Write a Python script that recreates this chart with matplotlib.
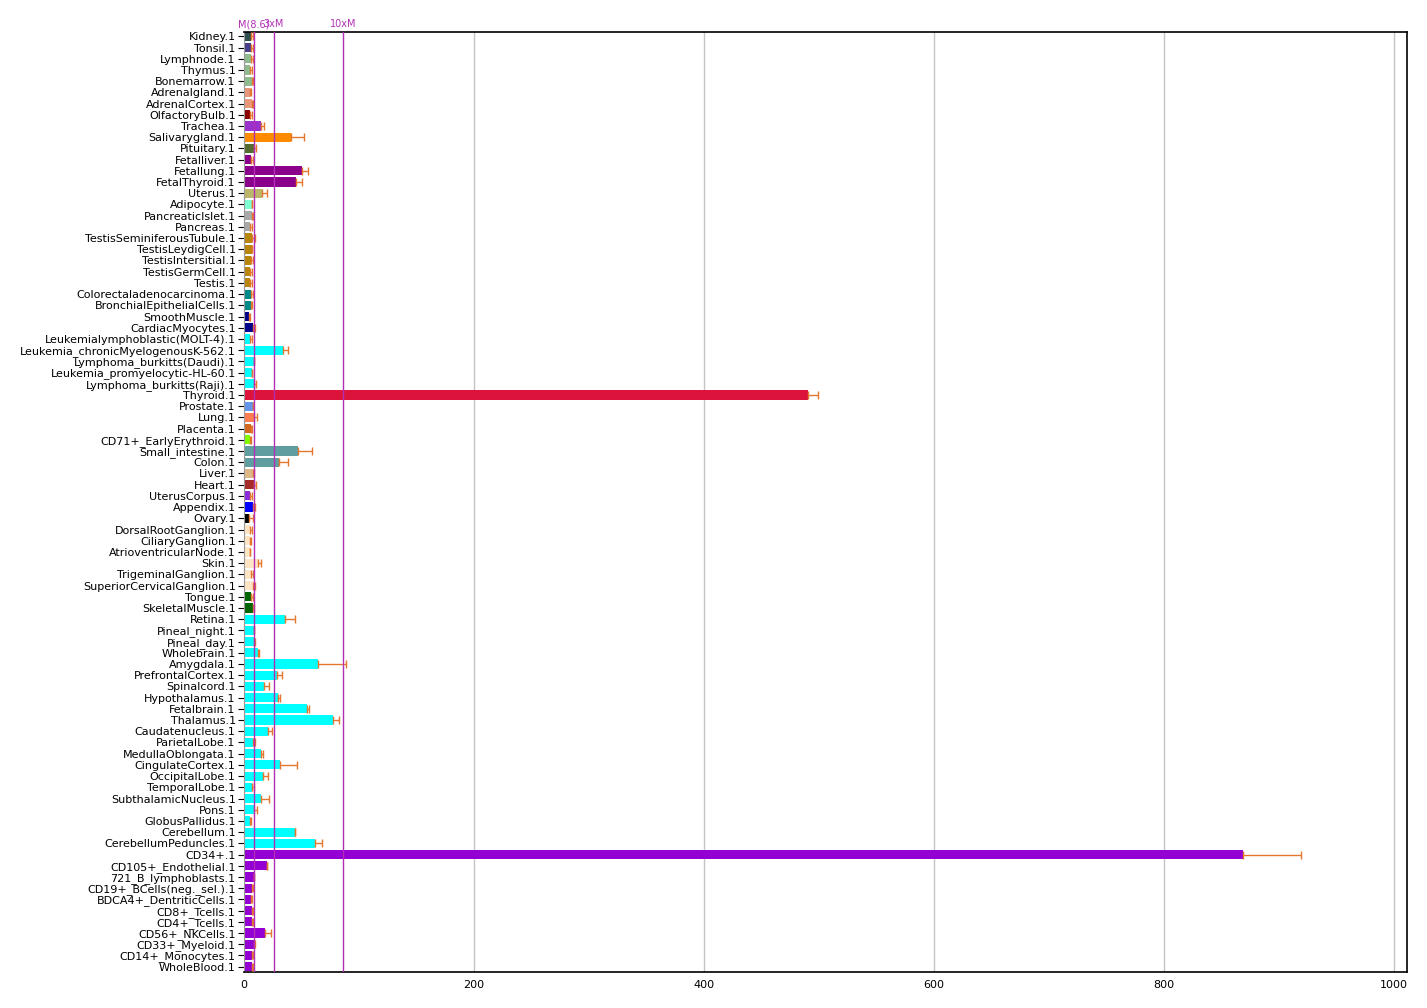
import numpy as np
import matplotlib
matplotlib.use('Agg')
import matplotlib.pyplot as plt

plt.rcParams['font.family'] = 'DejaVu Sans'

#%% data
samples = ['Kidney.1', 'Tonsil.1', 'Lymphnode.1', 'Thymus.1', 'Bonemarrow.1',
           'Adrenalgland.1', 'AdrenalCortex.1', 'OlfactoryBulb.1', 'Trachea.1',
           'Salivarygland.1', 'Pituitary.1', 'Fetalliver.1', 'Fetallung.1',
           'FetalThyroid.1', 'Uterus.1', 'Adipocyte.1', 'PancreaticIslet.1',
           'Pancreas.1', 'TestisSeminiferousTubule.1', 'TestisLeydigCell.1',
           'TestisIntersitial.1', 'TestisGermCell.1', 'Testis.1',
           'Colorectaladenocarcinoma.1', 'BronchialEpithelialCells.1',
           'SmoothMuscle.1', 'CardiacMyocytes.1', 'Leukemialymphoblastic(MOLT-4).1',
           'Leukemia_chronicMyelogenousK-562.1', 'Lymphoma_burkitts(Daudi).1',
           'Leukemia_promyelocytic-HL-60.1', 'Lymphoma_burkitts(Raji).1',
           'Thyroid.1', 'Prostate.1', 'Lung.1', 'Placenta.1',
           'CD71+_EarlyErythroid.1', 'Small_intestine.1', 'Colon.1', 'Liver.1',
           'Heart.1', 'UterusCorpus.1', 'Appendix.1', 'Ovary.1',
           'DorsalRootGanglion.1', 'CiliaryGanglion.1', 'AtrioventricularNode.1',
           'Skin.1', 'TrigeminalGanglion.1', 'SuperiorCervicalGanglion.1',
           'Tongue.1', 'SkeletalMuscle.1', 'Retina.1', 'Pineal_night.1',
           'Pineal_day.1', 'Wholebrain.1', 'Amygdala.1', 'PrefrontalCortex.1',
           'Spinalcord.1', 'Hypothalamus.1', 'Fetalbrain.1', 'Thalamus.1',
           'Caudatenucleus.1', 'ParietalLobe.1', 'MedullaOblongata.1',
           'CingulateCortex.1', 'OccipitalLobe.1', 'TemporalLobe.1',
           'SubthalamicNucleus.1', 'Pons.1', 'GlobusPallidus.1', 'Cerebellum.1',
           'CerebellumPeduncles.1', 'CD34+.1', 'CD105+_Endothelial.1',
           '721_B_lymphoblasts.1', 'CD19+_BCells(neg._sel.).1',
           'BDCA4+_DentriticCells.1', 'CD8+_Tcells.1', 'CD4+_Tcells.1',
           'CD56+_NKCells.1', 'CD33+_Myeloid.1', 'CD14+_Monocytes.1',
           'WholeBlood.1']

values = [6.4, 5.8, 5.8, 5.2, 7.3,
          5.5, 7.3, 4.9, 14.8,
          40.9, 8.4, 6.1, 50.5,
          45.0, 15.9, 7.0, 7.3,
          5.2, 7.3, 6.7,
          6.4, 5.2, 5.2,
          6.1, 6.1,
          4.1, 7.8, 5.2,
          33.9, 8.4,
          7.0, 9.0,
          490.9, 7.8, 9.0, 6.4,
          5.2, 47.0, 30.5, 8.1,
          8.7, 5.5, 8.1, 4.6,
          5.2, 4.9, 4.9,
          12.2, 6.1, 8.1,
          5.8, 8.1, 35.7, 8.7,
          8.4, 12.2, 64.7, 28.7,
          17.7, 29.6, 54.6, 77.5,
          21.2, 8.1, 14.8,
          31.6, 16.5, 7.3,
          14.8, 9.0, 5.5, 44.1,
          61.8, 868.6, 20.0,
          8.4, 7.3,
          6.1, 7.3, 7.3,
          18.6, 8.7, 7.3,
          7.3]

errors = [1.4, 2.0, 2.0, 1.5, 0.5,
          0.3, 0.6, 1.8, 2.9,
          11.6, 2.3, 1.7, 4.9,
          5.8, 4.4, 0.3, 0.9,
          1.5, 2.6, 0.3,
          1.4, 1.5, 1.5,
          1.7, 0.6,
          1.5, 2.0, 1.5,
          4.7, 0.6,
          0.3, 1.2,
          8.4, 0.3, 2.0, 0.6,
          0.6, 12.5, 8.1, 0.9,
          1.5, 1.2, 1.2, 2.9,
          1.5, 1.2, 0.6,
          2.3, 1.7, 1.2,
          2.0, 0.9, 9.0, 0.3,
          0.9, 1.2, 24.4, 4.4,
          4.1, 1.7, 2.0, 5.2,
          3.5, 1.5, 1.7,
          14.8, 4.4, 1.5,
          7.2, 2.6, 0.3, 0.3,
          5.8, 51.0, 0.3,
          0.6, 0.3,
          1.2, 0.3, 0.3,
          4.6, 0.6, 0.3,
          0.3]

colors = ['#2F4F4F', '#483D8B', '#8FBC8F', '#8FBC8F', '#8FBC8F',
          '#E9967A', '#E9967A', '#8B0000', '#9932CC',
          '#FF8C00', '#556B2F', '#8B008B', '#8B008B',
          '#8B008B', '#BDB76B', '#7FFFD4', '#A9A9A9',
          '#A9A9A9', '#B8860B', '#B8860B',
          '#B8860B', '#B8860B', '#B8860B',
          '#008B8B', '#008B8B',
          '#00008B', '#00008B', '#00FFFF',
          '#00FFFF', '#00FFFF',
          '#00FFFF', '#00FFFF',
          '#DC143C', '#6495ED', '#FF7F50', '#D2691E',
          '#7FFF00', '#5F9EA0', '#5F9EA0', '#DEB887',
          '#A52A2A', '#8A2BE2', '#0000FF', '#000000',
          '#FFE4C4', '#FFE4C4', '#FFE4C4',
          '#FFE4C4', '#FFE4C4', '#FFE4C4',
          '#006400', '#006400', '#00FFFF', '#00FFFF',
          '#00FFFF', '#00FFFF', '#00FFFF', '#00FFFF',
          '#00FFFF', '#00FFFF', '#00FFFF', '#00FFFF',
          '#00FFFF', '#00FFFF', '#00FFFF',
          '#00FFFF', '#00FFFF', '#00FFFF',
          '#00FFFF', '#00FFFF', '#00FFFF', '#00FFFF',
          '#00FFFF', '#9400D3', '#9400D3',
          '#9400D3', '#9400D3',
          '#9400D3', '#9400D3', '#9400D3',
          '#9400D3', '#9400D3', '#9400D3',
          '#9400D3']

median = 8.6
ref_mult = [1, 3, 10]
ref_labels = ['M(8.6)', '3xM', '10xM']

#%%
fig, ax = plt.subplots(figsize=(14.27, 10.08), dpi=100)
fig.subplots_adjust(left=0.171, right=0.986, top=0.968, bottom=0.036)

y = np.arange(len(samples))
ax.barh(y, values, height=0.82, color=colors, zorder=2,
        xerr=[np.zeros(len(errors)), errors],
        error_kw=dict(ecolor='#E5762E', elinewidth=1, capsize=3, capthick=1, zorder=3))

ax.set_yticks(y)
ax.set_yticklabels(samples, fontsize=8)
ax.set_ylim(83.45, -0.36)

xmax = max(v + e for v, e in zip(values, errors)) * 1.1
ax.set_xlim(0, xmax)
ax.set_xticks(np.arange(0, 1001, 200))
ax.tick_params(axis='x', length=0, labelsize=8, pad=6)
ax.tick_params(axis='y', length=4, pad=2)
ax.xaxis.grid(True, color='#c4c4c4', linewidth=1, zorder=0)
ax.set_axisbelow(True)

for sp in ['top', 'right', 'bottom']:
    ax.spines[sp].set_linewidth(1.2)
ax.spines['left'].set_color('#999999')

for m, lab in zip(ref_mult, ref_labels):
    xv = median * m
    ax.axvline(xv, color='#B22FB5', linewidth=1, zorder=4)
    ax.text(xv, 1.003, lab, transform=ax.get_xaxis_transform(), ha='center',
            va='bottom', fontsize=7, color='#B22FB5')

fig.savefig('out.png', dpi=100)
